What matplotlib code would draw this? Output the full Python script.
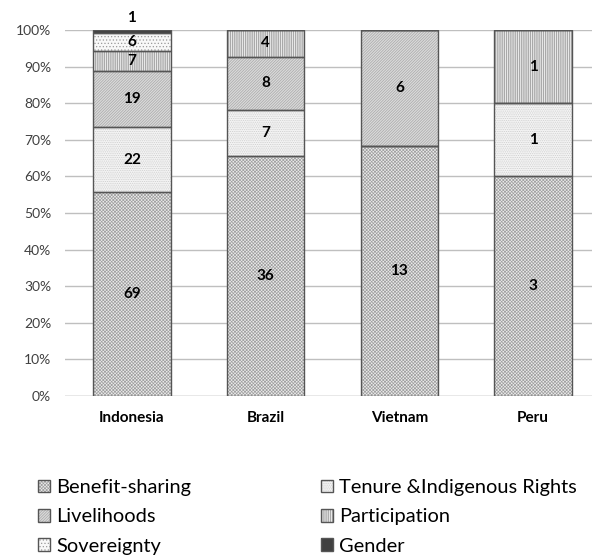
import matplotlib
matplotlib.use("Agg")
import matplotlib.pyplot as plt
import numpy as np

countries = ["Indonesia", "Brazil", "Vietnam", "Peru"]
categories = ["Benefit-sharing", "Tenure &Indigenous Rights", "Livelihoods",
              "Participation", "Sovereignty", "Gender"]
benefit = [69, 36, 13, 3]
tenure = [22, 7, 0, 1]
livelihoods = [19, 8, 6, 0]
participation = [7, 4, 0, 1]
sovereignty = [6, 0, 0, 0]
gender = [1, 0, 0, 0]

series = [benefit, tenure, livelihoods, participation, sovereignty, gender]
styles = {
    "Benefit-sharing": dict(facecolor="#ececec", hatch_col="#a0a0a0", hatch="x" * 10),
    "Tenure &Indigenous Rights": dict(facecolor="#f4f4f4", hatch_col="#cccccc", hatch="." * 9),
    "Livelihoods": dict(facecolor="#dadada", hatch_col="#a8a8a8", hatch="/" * 12),
    "Participation": dict(facecolor="#e8e8e8", hatch_col="#8e8e8e", hatch="|" * 9),
    "Sovereignty": dict(facecolor="#f8f8f8", hatch_col="#9a9a9a", hatch="." * 5),
    "Gender": dict(facecolor="#404040", hatch_col="#404040", hatch=None),
}

plt.rcParams["font.family"] = ["Lato", "DejaVu Sans"]
plt.rcParams["hatch.linewidth"] = 0.5

data = np.array(series, dtype=float)
totals = data.sum(axis=0)
pct = data / totals * 100

fig = plt.figure(figsize=(5.92, 5.55), dpi=100)
ax = fig.add_axes([65 / 592, 159 / 555, 1 - 65 / 592, 366 / 555])
x = np.arange(len(countries))
w = 0.58

bottom = np.zeros(len(countries))
handles = {}
for name, vals, p in zip(categories, data, pct):
    st = styles[name]
    b = ax.bar(x, p, w, bottom=bottom, color=st["facecolor"], edgecolor=st["hatch_col"],
               hatch=st["hatch"], linewidth=0, zorder=3, label=name)
    o = ax.bar(x, p, w, bottom=bottom, fill=False, edgecolor="#555555", linewidth=1.0, zorder=4)
    handles[name] = (b, o)
    for i in range(len(countries)):
        if vals[i] == 0:
            continue
        if name == "Gender":
            ty = 103.3
        else:
            ty = bottom[i] + p[i] / 2
        ax.text(x[i], ty, f"{int(vals[i])}", ha="center", va="center",
                fontsize=11, fontweight="bold", color="black", zorder=5)
    bottom += p

ax.set_xlim(-0.5, 3.44)
ax.set_ylim(0, 100)
ax.set_yticks(np.arange(0, 101, 10))
ax.set_yticklabels([f"{v}%" for v in range(0, 101, 10)], fontsize=10, color="#404040")
ax.set_xticks(x)
ax.set_xticklabels(countries, fontsize=11, fontweight="bold")
ax.tick_params(axis="y", length=0, pad=10)
ax.tick_params(axis="x", length=0, pad=11)
ax.grid(axis="y", color="#bfbfbf", linewidth=1, zorder=0)
for s in ax.spines.values():
    s.set_visible(False)
ax.axhline(0, color="#bfbfbf", linewidth=1, zorder=1)

order = ["Benefit-sharing", "Livelihoods", "Sovereignty",
         "Tenure &Indigenous Rights", "Participation", "Gender"]
fig.legend([handles[n] for n in order], order, ncol=2, loc="upper left",
           bbox_to_anchor=(38 / 592, 1 - 479 / 555), frameon=False, fontsize=14.4,
           borderpad=0, borderaxespad=0,
           handlelength=0.6, handleheight=0.6, handletextpad=0.3,
           columnspacing=6.5, labelspacing=0.62)

fig.savefig("out.png", dpi=100)
